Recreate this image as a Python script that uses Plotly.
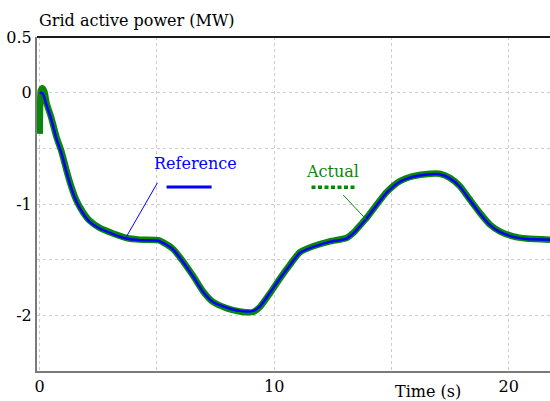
import plotly.graph_objects as go

# Reference (set-point) trajectory of grid active power, MW
ref_time = [0.0, 0.12, 0.29, 0.50, 0.71, 0.93, 1.14, 1.35, 1.57, 1.85, 2.13, 2.56,
            3.13, 3.70, 4.27, 5.05, 5.26, 5.69, 6.11, 6.54, 6.97, 7.39, 7.96, 8.53,
            9.10, 9.39, 9.81, 10.24, 10.67, 11.09, 11.66, 12.37, 13.08, 13.44, 13.65,
            13.94, 14.79, 15.36, 15.93, 16.64, 17.06, 17.49, 17.92, 18.34, 18.77,
            19.20, 19.62, 20.19, 20.76, 21.76]
ref_power = [0.00, -0.005, -0.11, -0.245, -0.41, -0.545, -0.71, -0.86, -0.98, -1.085,
             -1.16, -1.22, -1.27, -1.31, -1.325, -1.33, -1.35, -1.41, -1.52, -1.65,
             -1.79, -1.88, -1.93, -1.96, -1.96, -1.92, -1.80, -1.67, -1.55, -1.44,
             -1.385, -1.34, -1.31, -1.25, -1.20, -1.13, -0.90, -0.80, -0.755, -0.733,
             -0.733, -0.77, -0.845, -0.965, -1.085, -1.19, -1.25, -1.295, -1.315, -1.32]

# Measured grid active power, MW
act_time = [0.0, 0.02, 0.05, 0.12, 0.20, 0.29, 0.50, 0.71, 0.93, 1.14, 1.35, 1.57,
            1.85, 2.13, 2.56, 3.13, 3.70, 4.27, 5.05, 5.26, 5.69, 6.11, 6.54, 6.97,
            7.39, 7.96, 8.53, 9.10, 9.39, 9.81, 10.24, 10.67, 11.09, 11.66, 12.37,
            13.08, 13.44, 13.65, 13.94, 14.79, 15.36, 15.93, 16.64, 17.06, 17.49,
            17.92, 18.34, 18.77, 19.20, 19.62, 20.19, 20.76, 21.76]
act_power = [-0.37, -0.10, 0.02, 0.04, 0.01, -0.09, -0.23, -0.395, -0.53, -0.695,
             -0.845, -0.97, -1.075, -1.15, -1.215, -1.265, -1.305, -1.32, -1.325,
             -1.345, -1.405, -1.515, -1.645, -1.785, -1.88, -1.935, -1.965, -1.97,
             -1.925, -1.805, -1.67, -1.545, -1.435, -1.38, -1.335, -1.305, -1.245,
             -1.195, -1.125, -0.895, -0.795, -0.75, -0.728, -0.728, -0.765, -0.84,
             -0.96, -1.08, -1.185, -1.245, -1.29, -1.31, -1.32]

x_ticks = [0, 5, 10, 15, 20]
x_labels = ["0", "", "10", "", "20"]
y_ticks = [-2.5, -2.0, -1.5, -1.0, -0.5, 0.0, 0.5]
y_labels = ["", "-2", "", "-1", "", "0", "0.5"]

FONT = "DejaVu Serif"
BLUE = "#0000ff"
GREEN = "#0a860a"
TXT = 16

fig = go.Figure()
fig.add_trace(go.Scatter(x=act_time, y=act_power, mode="lines", name="Actual",
                         line=dict(color=GREEN, width=6.5, shape="spline",
                                   smoothing=0.6)))
fig.add_trace(go.Scatter(x=ref_time, y=ref_power, mode="lines", name="Reference",
                         line=dict(color=BLUE, width=2.5, shape="spline",
                                   smoothing=0.6)))

# in-plot labels with leader lines and line samples
fig.add_annotation(x=6.66, y=-0.64, xref="x", yref="y", text="Reference",
                   showarrow=False, font=dict(family=FONT, size=TXT, color=BLUE))
fig.add_annotation(x=12.5, y=-0.712, xref="x", yref="y", text="Actual",
                   showarrow=False, font=dict(family=FONT, size=TXT, color=GREEN))
fig.add_shape(type="line", x0=5.41, x1=7.33, y0=-0.847, y1=-0.847,
              line=dict(color=BLUE, width=3))
fig.add_shape(type="line", x0=11.59, x1=13.44, y0=-0.85, y1=-0.85,
              line=dict(color=GREEN, width=3.5, dash="4px,2.5px"))
fig.add_shape(type="line", x0=5.02, y0=-0.81, x1=3.70, y1=-1.293,
              line=dict(color=BLUE, width=1))
fig.add_shape(type="line", x0=12.94, y0=-0.919, x1=13.94, y1=-1.143,
              line=dict(color=GREEN, width=1))
# top frame line
fig.add_shape(type="line", xref="paper", yref="paper", x0=0, x1=1, y0=1, y1=1,
              line=dict(color="#1a1a1a", width=2))

fig.add_annotation(x=0, y=1.05, xref="paper", yref="paper", xanchor="left",
                   yanchor="middle", text="Grid active power (MW)", showarrow=False,
                   font=dict(family=FONT, size=TXT, color="black"))
fig.add_annotation(x=0.762, y=-0.06, xref="paper", yref="paper", xanchor="center",
                   yanchor="middle", text="Time (s)", showarrow=False,
                   font=dict(family=FONT, size=TXT, color="black"))

fig.update_layout(
    width=550, height=401,
    margin=dict(l=37, r=0, t=37, b=30),
    paper_bgcolor="white", plot_bgcolor="white",
    showlegend=False,
    font=dict(family=FONT, size=TXT, color="black"),
)
fig.update_xaxes(range=[-0.115, 21.76], tickvals=x_ticks, ticktext=x_labels,
                 showgrid=True, gridcolor="#cccccc", griddash="dot", gridwidth=1,
                 zeroline=False, showline=True, linecolor="#7a7a7a", linewidth=2,
                 ticks="", tickfont=dict(family=FONT, size=TXT))
fig.update_yaxes(range=[-2.5, 0.5], tickvals=y_ticks, ticktext=y_labels,
                 showgrid=True, gridcolor="#cccccc", griddash="dot", gridwidth=1,
                 zeroline=False, showline=True, linecolor="#7a7a7a", linewidth=2,
                 ticks="", tickfont=dict(family=FONT, size=TXT))

fig.write_html("out.html")
